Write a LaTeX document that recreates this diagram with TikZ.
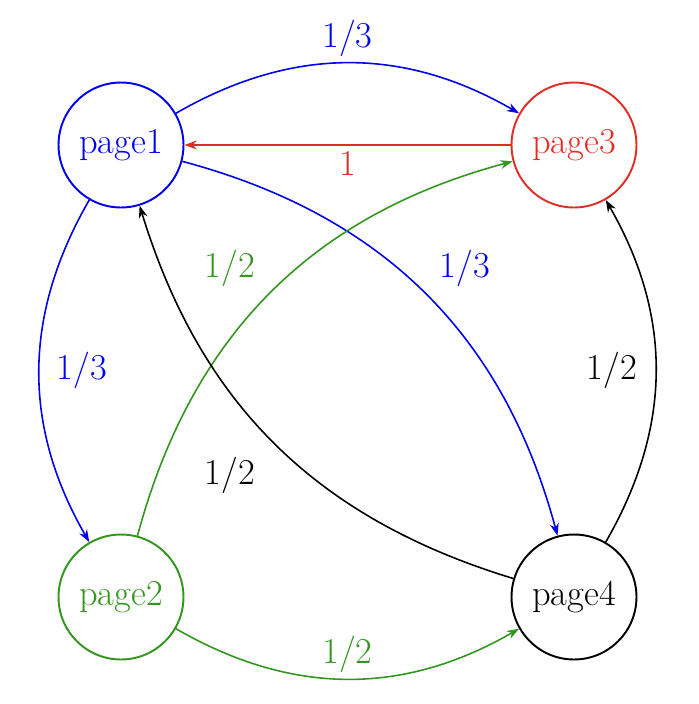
\documentclass[tikz,border=0pt]{standalone}
\usetikzlibrary{arrows.meta}
\begin{document}
\begin{tikzpicture}[x=0.02cm,y=-0.02cm,
  pg/.style={circle,draw,line width=1.1pt,minimum size=2.5cm,inner sep=0pt,font=\huge},
  ed/.style={-{Stealth[length=7pt,width=5pt]},line width=0.9pt},
  lb/.style={font=\huge}]
\useasboundingbox (0,0) rectangle (698,704);
\definecolor{cb}{RGB}{0,0,235}
\definecolor{cr}{RGB}{225,45,35}
\definecolor{cg}{RGB}{50,150,30}
\node[pg,draw=cb,text=cb] (p1) at (121,145) {page1};
\node[pg,draw=cr,text=cr] (p3) at (574,145) {page3};
\node[pg,draw=cg,text=cg] (p2) at (121,597) {page2};
\node[pg] (p4) at (574,597) {page4};
\draw[ed,cb] (p1) to[bend left=30] node[lb,above]{1/3} (p3);
\draw[ed,cr] (p3) -- node[lb,below]{1} (p1);
\draw[ed,cb] (p1) to[bend right=30] (p2);
\node[lb,text=cb] at (82,370) {1/3};
\draw[ed,cb] (p1) to[bend left=30] (p4);
\node[lb,text=cb] at (465,268) {1/3};
\draw[ed,cg] (p2) to[bend left=30] (p3);
\node[lb,text=cg] at (230,268) {1/2};
\draw[ed] (p4) to[bend left=28] (p1);
\node[lb] at (230,475) {1/2};
\draw[ed,cg] (p2) to[bend right=30] node[lb,above]{1/2} (p4);
\draw[ed] (p4) to[bend right=30] (p3);
\node[lb] at (612,370) {1/2};
\end{tikzpicture}
\end{document}
